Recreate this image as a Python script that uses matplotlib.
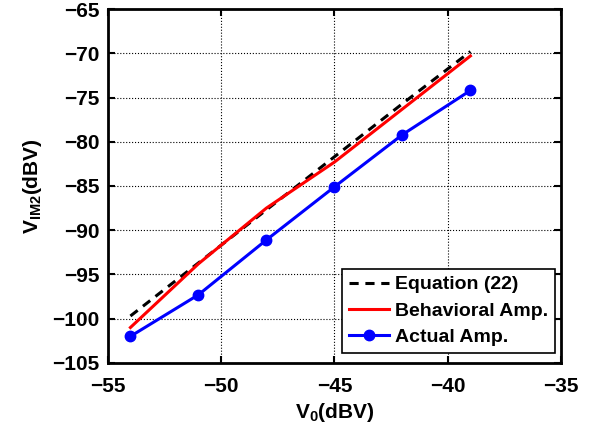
import matplotlib
matplotlib.use('Agg')
import matplotlib.pyplot as plt

# data
v0 = [-54, -51, -48, -45, -42, -39]
eq22 = [-99.7, -93.7, -87.7, -81.7, -75.7, -69.8]
behavioral = [-101.0, -93.8, -87.5, -82.3, -76.3, -70.3]
actual = [-102.0, -97.3, -91.1, -85.1, -79.2, -74.2]

plt.rcParams['font.family'] = 'Liberation Sans'
plt.rcParams['font.weight'] = 'bold'
plt.rcParams['mathtext.fontset'] = 'custom'
plt.rcParams['mathtext.rm'] = 'Liberation Sans:bold'
plt.rcParams['mathtext.it'] = 'Liberation Sans:bold'
plt.rcParams['mathtext.bf'] = 'Liberation Sans:bold'
plt.rcParams['mathtext.default'] = 'bf'

fig = plt.figure(figsize=(6.02, 4.32), dpi=100)
ax = fig.add_axes([0.179, 0.160, 0.753, 0.819])

ax.plot(v0, eq22, '--', color='black', linewidth=2.2, dashes=(3, 2.2), label='Equation (22)')
ax.plot(v0, behavioral, '-', color='#ff0000', linewidth=2.2, label='Behavioral Amp.')
ax.plot(v0, actual, 'o-', color='#0000ff', linewidth=2.2, markersize=7.5, label='Actual Amp.')

ax.set_xlim(-55, -35)
ax.set_ylim(-105, -65)
ax.set_xticks(range(-55, -34, 5))
ax.set_yticks(range(-105, -64, 5))
ax.tick_params(direction='in', top=True, right=True, labelsize=15, width=1.5, length=5)
ax.tick_params(axis='x', pad=10)
ax.tick_params(axis='y', pad=6)
for lbl in ax.get_xticklabels() + ax.get_yticklabels():
    lbl.set_fontweight('bold')
for sp in ax.spines.values():
    sp.set_linewidth(2)
ax.grid(True, linestyle=':', color='black', linewidth=0.8)

ax.set_xlabel(r'V$_0$(dBV)', fontsize=15, fontweight='bold', labelpad=4)
ax.set_ylabel(r'V$_{IM2}$(dBV)', fontsize=15, fontweight='bold', labelpad=6)

leg = ax.legend(loc='lower right', bbox_to_anchor=(0.987, 0.028), borderaxespad=0,
                fontsize=14, fancybox=False, framealpha=1, edgecolor='black',
                handlelength=2.1, labelspacing=0.45, borderpad=0.35, handletextpad=0.3)
leg.get_frame().set_linewidth(1.2)
for t in leg.get_texts():
    t.set_fontweight('bold')

fig.savefig('out.png', dpi=100)
